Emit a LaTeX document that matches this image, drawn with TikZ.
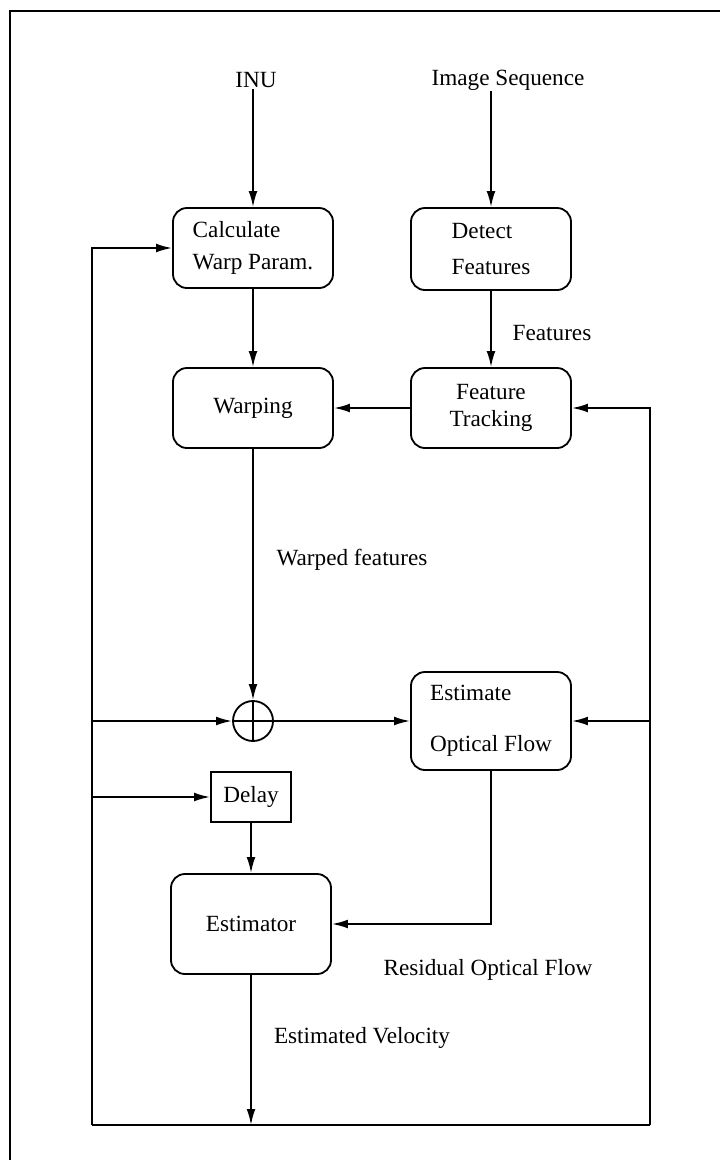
\documentclass[tikz,border=0pt]{standalone}
\usepackage{fontspec}
\setmainfont{Liberation Serif}
\usepackage{tikz}
\usetikzlibrary{positioning,arrows.meta,calc}

\begin{document}
\begin{tikzpicture}[
        x=0.025cm, y=-0.025cm,
        font=\fontsize{16.5}{19}\selectfont,
        line width=1.3pt,
        box/.style={draw, rounded corners=0.35cm, align=left, minimum width=4cm, minimum height=2cm, inner sep=0pt},
        sbox/.style={draw, minimum width=2cm, minimum height=1.25cm, inner sep=0pt},
        sumnode/.style={draw, circle, minimum size=1cm, inner sep=0pt},
        lbl/.style={inner sep=0pt},
        line/.style={-{Latex[length=4mm, width=2.2mm]}}
    ]
        \useasboundingbox (0,0) rectangle (720,1160);
        % scanned frame (top and left only)
        \draw[line width=1pt] (10,1160) -- (10,11) -- (720,11);

        % inputs
        \node[lbl] (inu) at (256,80) {INU};
        \node[lbl] (imgseq) at (508,80) {Image Sequence};

        % blocks
        \node[box] (calc) at (253,248) {Calculate\\[4pt]Warp Param.};
        \node[box, minimum height=2.05cm] (detect) at (491,249) {Detect\\[6pt]Features};
        \node[box, align=center] (track) at (491,408) {Feature\\Tracking};
        \node[box] (warp) at (253,408) {Warping};
        \node[sumnode] (sum) at (253,721) {};
        \node[box, minimum height=2.45cm] (estflow) at (491,721) {Estimate\\[17pt]Optical Flow};
        \node[sbox] (delay) at (251,797) {Delay};
        \node[box, minimum height=2.5cm] (estim) at (251,924) {Estimator};

        % labels
        \node[lbl] (featlbl) at (552,333) {Features};
        \node[lbl] (warplbl) at (352,560) {Warped features};
        \node[lbl] (reslbl) at (488,970) {Residual Optical Flow};
        \node[lbl] (vellbl) at (362,1038) {Estimated Velocity};

        % loop corners
        \coordinate (bl) at (92,1125);
        \coordinate (br) at (650,1125);
        \coordinate (bout) at (estim |- bl);

        \draw (sum.north) -- (sum.south);
        \draw (sum.west) -- (sum.east);

        \draw[line] (calc.north |- inu.south) -- (calc);
        \draw[line] (detect.north |- imgseq.south) -- (detect);
        \draw[line] (calc) -- (warp);
        \draw[line] (detect) -- (track);
        \draw[line] (track) -- (warp);
        \draw[line] (warp) -- (sum);
        \draw[line] (sum) -- (estflow);
        \draw[line] (delay) -- (estim);
        \draw[line] (estflow.south) |- (estim.east);
        \draw[line] (estim) -- (bout);

        % feedback of estimated velocity
        \draw (bl) -- (br);
        \draw[line] (bl) |- (calc.west);
        \draw[line] (br) |- (track.east);
        \draw[line] (bl |- sum) -- (sum);
        \draw[line] (bl |- delay) -- (delay);
        \draw[line] (br |- estflow) -- (estflow);
    \end{tikzpicture}
\end{document}
